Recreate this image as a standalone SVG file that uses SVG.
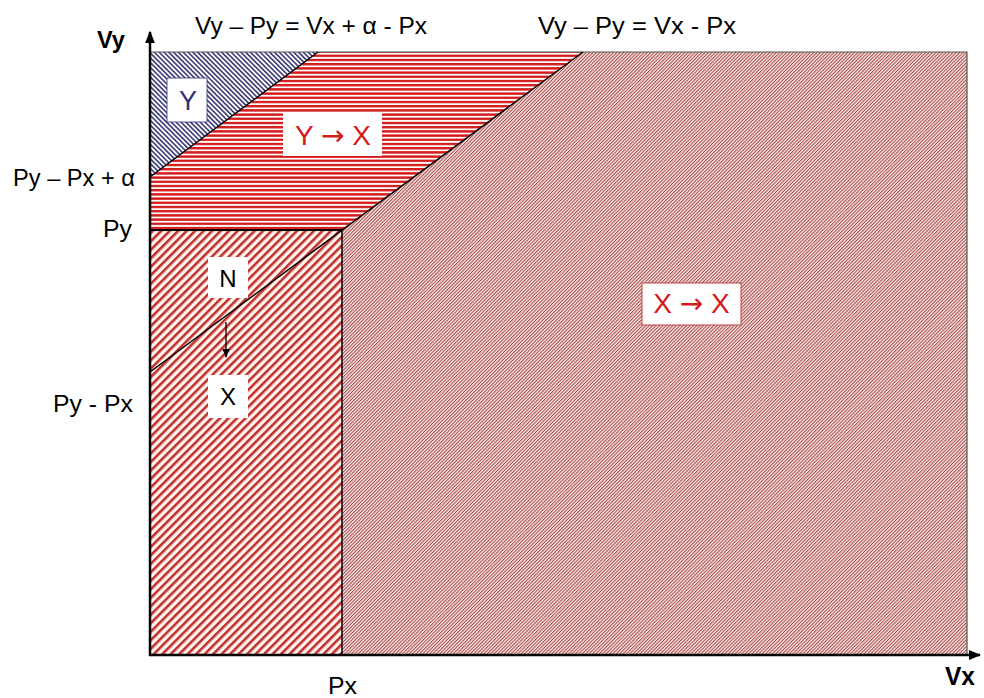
<svg xmlns="http://www.w3.org/2000/svg" width="984" height="698" viewBox="0 0 984 698">
<style>
text{font-family:"Liberation Sans",Arial,sans-serif;font-size:23px;fill:#000}
.b{font-weight:bold}
.red{fill:#d41a1a}
.navy{fill:#33337a}
.arr{font-family:"DejaVu Sans",sans-serif}
.bnd{stroke:#000;stroke-width:1.5;fill:none}
</style>
<defs>
<pattern id="pBlue" patternUnits="userSpaceOnUse" width="3.4" height="10" patternTransform="rotate(-45)">
<rect width="3.4" height="10" fill="#ffffff"/>
<rect width="1.6" height="10" fill="#3a3a78"/>
</pattern>
<pattern id="pHor" patternUnits="userSpaceOnUse" width="10" height="4.2">
<rect width="10" height="4.2" fill="#ffffff"/>
<rect width="10" height="2.4" fill="#d41a1a"/>
</pattern>
<pattern id="pNX" patternUnits="userSpaceOnUse" width="6" height="10" patternTransform="rotate(45)">
<rect width="6" height="10" fill="#fff4f2"/>
<rect width="2.6" height="10" fill="#c0302a"/>
</pattern>
<pattern id="pXX" patternUnits="userSpaceOnUse" width="2.4" height="10" patternTransform="rotate(45)">
<rect width="2.4" height="10" fill="#f6e4e4"/>
<rect width="1" height="10" fill="#a64848"/>
</pattern>
<marker id="ah" viewBox="0 0 10 10" refX="9" refY="5" markerWidth="7" markerHeight="7" orient="auto">
<path d="M0,1 L10,5 L0,9 Z" fill="#000"/>
</marker>
<marker id="axh" viewBox="0 0 10 10" refX="9" refY="5" markerWidth="5" markerHeight="5" orient="auto">
<path d="M0,1 L10,5 L0,9 Z" fill="#000"/>
</marker>
</defs>

<g id="region-xx"><polygon points="342,230 583,52 967,52 967,655 342,655" fill="url(#pXX)"/></g>
<g id="region-nx"><rect x="150" y="230" width="192" height="425" fill="url(#pNX)"/></g>
<g id="region-yx"><polygon points="150,177 318,52 583,52 342,230 150,230" fill="url(#pHor)"/></g>
<g id="region-y"><polygon points="150,52 318,52 150,177" fill="url(#pBlue)"/></g>

<g id="boundaries">
<polyline points="150,52 967,52 967,655" fill="none" stroke="#555" stroke-width="1.2"/>
<line class="bnd" x1="150" y1="177" x2="318" y2="52"/>
<line class="bnd" x1="150" y1="372" x2="583" y2="52"/>
<line x1="150" y1="230" x2="342" y2="230" stroke="#000" stroke-width="2.2"/>
<line class="bnd" x1="342" y1="230" x2="342" y2="655"/>
</g>

<g id="axes">
<line x1="150" y1="656" x2="150" y2="32" stroke="#000" stroke-width="2.5" marker-end="url(#axh)"/>
<line x1="149" y1="655" x2="980" y2="655" stroke="#000" stroke-width="2.5" marker-end="url(#axh)"/>
<text class="b" x="97" y="48" textLength="28" lengthAdjust="spacingAndGlyphs">Vy</text>
<text class="b" x="945" y="685" textLength="30" lengthAdjust="spacingAndGlyphs" style="font-size:25px">Vx</text>
</g>

<g id="axis-labels">
<text x="195" y="34" textLength="232" lengthAdjust="spacingAndGlyphs">Vy – Py = Vx + α - Px</text>
<text x="538" y="34" textLength="198" lengthAdjust="spacingAndGlyphs">Vy – Py = Vx - Px</text>
<text x="13" y="186" textLength="122" lengthAdjust="spacingAndGlyphs">Py – Px + α</text>
<text x="103" y="237" textLength="29" lengthAdjust="spacingAndGlyphs">Py</text>
<text x="53" y="412" textLength="80" lengthAdjust="spacingAndGlyphs">Py - Px</text>
<text x="328" y="694" textLength="29" lengthAdjust="spacingAndGlyphs">Px</text>
</g>

<g id="node-y">
<rect x="167" y="78" width="40" height="44" fill="#fff" stroke="#33337a" stroke-width="0.8"/>
<text class="navy" x="188" y="110" text-anchor="middle" style="font-size:27px">Y</text>
</g>
<g id="node-yx">
<rect x="283" y="112" width="99" height="44" fill="#fff"/>
<text class="red" x="333" y="145" text-anchor="middle" style="font-size:28px">Y <tspan class="arr">→</tspan> X</text>
</g>
<g id="node-n">
<rect x="208" y="257" width="40" height="41" fill="#fff"/>
<text x="228" y="287" text-anchor="middle" style="font-size:24px">N</text>
</g>
<g id="node-x">
<rect x="208" y="375" width="40" height="43" fill="#fff"/>
<text x="228" y="405" text-anchor="middle" style="font-size:24px">X</text>
</g>
<g id="node-xx">
<rect x="642" y="283" width="99" height="42" fill="#fff" stroke="#c04040" stroke-width="1"/>
<text class="red" x="691.5" y="313" text-anchor="middle" style="font-size:28px">X <tspan class="arr">→</tspan> X</text>
</g>

<g id="connectors">
<line x1="226" y1="322" x2="226" y2="357" stroke="#000" stroke-width="1.3" marker-end="url(#ah)"/>
</g>
</svg>
